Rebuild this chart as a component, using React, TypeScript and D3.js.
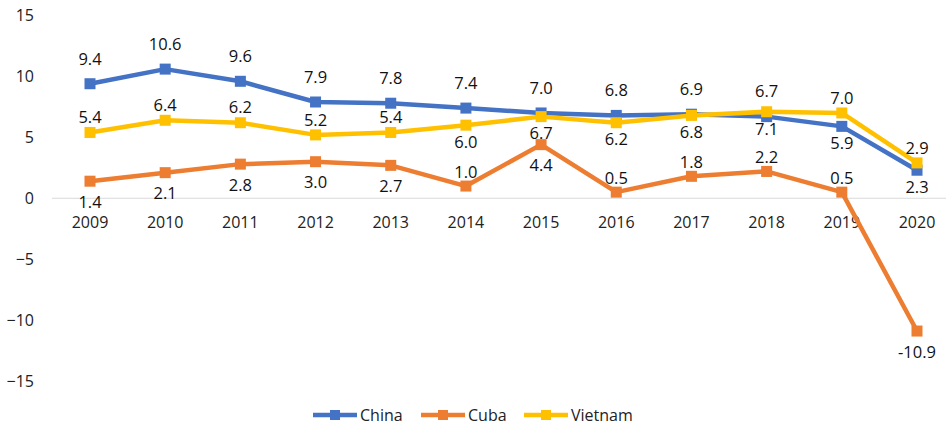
import { useEffect, useRef } from 'react'
import * as d3 from 'd3'

const years = ['2009', '2010', '2011', '2012', '2013', '2014', '2015', '2016', '2017', '2018', '2019', '2020']
const chinaValues = [9.4, 10.6, 9.6, 7.9, 7.8, 7.4, 7.0, 6.8, 6.9, 6.7, 5.9, 2.3]
const cubaValues = [1.4, 2.1, 2.8, 3.0, 2.7, 1.0, 4.4, 0.5, 1.8, 2.2, 0.5, -10.9]
const vietnamValues = [5.4, 6.4, 6.2, 5.2, 5.4, 6.0, 6.7, 6.2, 6.8, 7.1, 7.0, 2.9]
const yTicks = [-15, -10, -5, 0, 5, 10, 15]

// where each data label sits relative to its point: a = above, b = below
const chinaLabelSide = ['a', 'a', 'a', 'a', 'a', 'a', 'a', 'a', 'a', 'a', 'b', 'b']
const cubaLabelSide = ['b', 'b', 'b', 'b', 'b', 'a', 'b', 'a', 'a', 'a', 'a', 'b']
const vietnamLabelSide = ['a', 'a', 'a', 'a', 'a', 'b', 'b', 'b', 'b', 'b', 'a', 'a']

const series = [
  { name: 'China', values: chinaValues, sides: chinaLabelSide, color: '#4472C4', above: 25, below: 17 },
  { name: 'Cuba', values: cubaValues, sides: cubaLabelSide, color: '#ED7D31', above: 14, below: 21 },
  { name: 'Vietnam', values: vietnamValues, sides: vietnamLabelSide, color: '#FFC000', above: 15, below: 17 }
]

const width = 946
const height = 426
const font = '"Open Sans", "Noto Sans", sans-serif'

export default function App() {
  const svgRef = useRef<SVGSVGElement>(null)

  useEffect(() => {
    if (!svgRef.current) return
    const svg = d3.select(svgRef.current)
    svg.selectAll('*').remove()

    const x = d3.scalePoint<string>()
      .domain(years)
      .range([90, 917])

    const y = d3.scaleLinear()
      .domain([-15, 15])
      .range([381, 15.5])

    // y tick labels
    svg.append('g')
      .selectAll('text')
      .data(yTicks)
      .enter()
      .append('text')
      .attr('x', 34)
      .attr('y', d => y(d))
      .attr('dy', '0.35em')
      .attr('text-anchor', 'end')
      .attr('font-family', font)
      .attr('font-size', 16)
      .attr('fill', '#222')
      .text(d => (d < 0 ? '\u2212' + Math.abs(d) : String(d)))

    // zero line
    svg.append('line')
      .attr('x1', 52)
      .attr('x2', width)
      .attr('y1', y(0))
      .attr('y2', y(0))
      .attr('stroke', '#D9D9D9')
      .attr('stroke-width', 1)

    // x category labels
    svg.append('g')
      .selectAll('text')
      .data(years)
      .enter()
      .append('text')
      .attr('x', d => x(d)!)
      .attr('y', y(0) + 24)
      .attr('dy', '0.35em')
      .attr('text-anchor', 'middle')
      .attr('font-family', font)
      .attr('font-size', 16)
      .attr('fill', '#222')
      .text(d => d)

    const line = d3.line<number>()
      .x((d, i) => x(years[i])!)
      .y(d => y(d))

    const ms = 11

    series.forEach(s => {
      const g = svg.append('g')
      g.append('path')
        .datum(s.values)
        .attr('d', line)
        .attr('fill', 'none')
        .attr('stroke', s.color)
        .attr('stroke-width', 4.5)
        .attr('stroke-linejoin', 'round')

      g.selectAll('rect')
        .data(s.values)
        .enter()
        .append('rect')
        .attr('x', (d, i) => x(years[i])! - ms / 2)
        .attr('y', d => y(d) - ms / 2)
        .attr('width', ms)
        .attr('height', ms)
        .attr('fill', s.color)
    })

    // data labels on top of everything
    series.forEach(s => {
      svg.append('g')
        .selectAll('text')
        .data(s.values)
        .enter()
        .append('text')
        .attr('x', (d, i) => x(years[i])!)
        .attr('y', (d, i) => y(d) + (s.sides[i] === 'a' ? -s.above : s.below))
        .attr('dy', '0.35em')
        .attr('text-anchor', 'middle')
        .attr('font-family', font)
        .attr('font-size', 16.5)
        .attr('fill', '#111')
        .text(d => d.toFixed(1))
    })

    // legend
    const legendX = [313, 421, 524]
    const legend = svg.append('g')
    series.forEach((s, i) => {
      const lx = legendX[i]
      const ly = 415
      legend.append('line')
        .attr('x1', lx)
        .attr('x2', lx + 44)
        .attr('y1', ly)
        .attr('y2', ly)
        .attr('stroke', s.color)
        .attr('stroke-width', 4.5)
      legend.append('rect')
        .attr('x', lx + 22 - 5)
        .attr('y', ly - 5)
        .attr('width', 10)
        .attr('height', 10)
        .attr('fill', s.color)
      legend.append('text')
        .attr('x', lx + 47)
        .attr('y', ly)
        .attr('dy', '0.35em')
        .attr('font-family', font)
        .attr('font-size', 16)
        .attr('fill', '#222')
        .text(s.name)
    })
  }, [])

  return (
    <svg
      ref={svgRef}
      width={width}
      height={height}
      style={{ position: 'absolute', left: 0, top: 0, background: '#fff' }}
    />
  )
}
